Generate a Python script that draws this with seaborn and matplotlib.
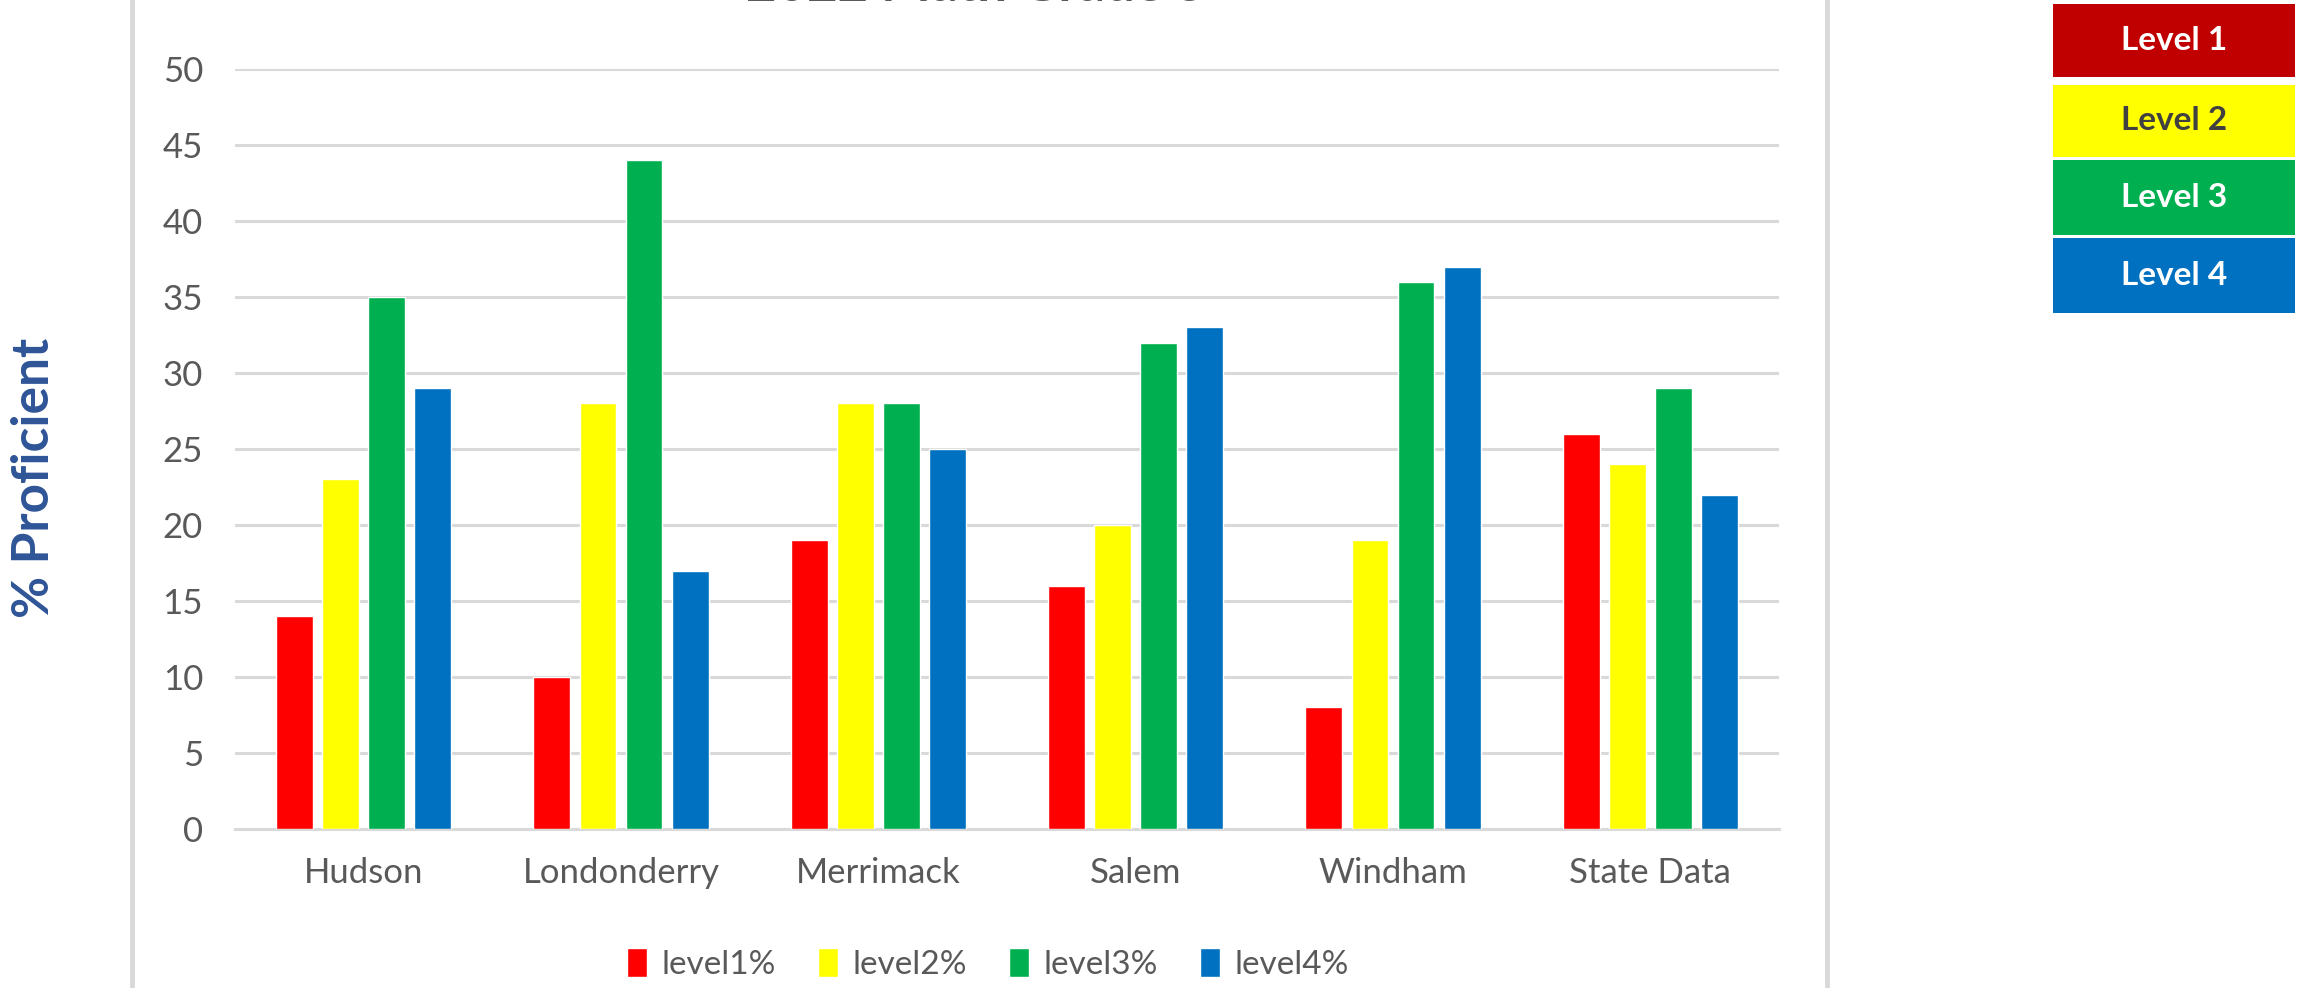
import matplotlib
matplotlib.use("Agg")
import matplotlib.pyplot as plt
from matplotlib.patches import Rectangle
from matplotlib.lines import Line2D
import seaborn as sns
import pandas as pd

# Proficiency distribution by district
districts = ["Hudson", "Londonderry", "Merrimack", "Salem", "Windham", "State Data"]
level1 = [14, 10, 19, 16, 8, 26]
level2 = [23, 28, 28, 20, 19, 24]
level3 = [35, 44, 28, 32, 36, 29]
level4 = [29, 17, 25, 33, 37, 22]
series_names = ["level1%", "level2%", "level3%", "level4%"]
bar_colors = ["#FF0000", "#FFFF00", "#00B050", "#0070C0"]

band_labels = ["Level 1", "Level 2", "Level 3", "Level 4"]
band_fill = ["#C00000", "#FFFF00", "#00B050", "#0070C0"]
band_text = ["white", "#404040", "white", "white"]

rows = []
for name, vals in zip(series_names, [level1, level2, level3, level4]):
    for d, v in zip(districts, vals):
        rows.append({"District": d, "Level": name, "Percent": v})
df = pd.DataFrame(rows)

sns.set_theme(style="white")
plt.rcParams["font.family"] = ["Lato", "DejaVu Sans"]

W, H = 2305, 988
fig = plt.figure(figsize=(W / 100, H / 100), dpi=100)
ax = fig.add_axes([235 / W, 1 - 829 / H, (1779 - 235) / W, (829 - 69) / H])

sns.barplot(data=df, x="District", y="Percent", hue="Level", order=districts,
            hue_order=series_names, palette=bar_colors, width=0.716, gap=0.2,
            saturation=1, errorbar=None, ax=ax, legend=True, zorder=3)

ax.set_ylim(0, 50)
ax.set_yticks(range(0, 51, 5))
ax.yaxis.grid(True, color="#D9D9D9", linewidth=2.2, zorder=0)
ax.set_axisbelow(True)
for s in ["top", "right", "left"]:
    ax.spines[s].set_visible(False)
ax.spines["bottom"].set_color("#D9D9D9")
ax.spines["bottom"].set_linewidth(2.2)
ax.tick_params(axis="both", length=0, labelsize=25, labelcolor="#595959")
ax.tick_params(axis="y", pad=23)
ax.tick_params(axis="x", pad=20)
ax.set_xlabel("")
ax.set_ylabel("")

leg = ax.legend(loc="center", bbox_to_anchor=(988 / W, 1 - 964 / H),
                bbox_transform=fig.transFigure, ncol=4, frameon=False,
                fontsize=24, handlelength=0.6, handleheight=0.95,
                handletextpad=0.45, columnspacing=1.25)
for t in leg.get_texts():
    t.set_color("#595959")

# y-axis title
fig.text(35 / W, 1 - 478 / H, "% Proficient", rotation=90, ha="center",
         va="center", fontsize=37, fontweight="bold", color="#2F5597")

# chart title (runs off the top edge)
fig.text(976 / W, 1 - 1 / H, "2022 Math Grade 5", ha="center", va="baseline",
         fontsize=38, fontweight="bold", color="#595959")

# chart area border
for xpx in (132, 1827):
    fig.add_artist(Line2D([xpx / W, xpx / W], [0, 1], transform=fig.transFigure,
                          color="#D9D9D9", linewidth=3.5))

# performance-level key
tops = [4, 85, 160, 238]
bots = [77, 157, 235, 313]
x0, x1 = 2053, 2295
for lab, fc, tc, t, b in zip(band_labels, band_fill, band_text, tops, bots):
    fig.add_artist(Rectangle((x0 / W, 1 - b / H), (x1 - x0) / W, (b - t) / H,
                             transform=fig.transFigure, facecolor=fc,
                             edgecolor="none"))
    fig.text((x0 + x1) / 2 / W, 1 - (t + b) / 2 / H, lab, ha="center",
             va="center", fontsize=24, fontweight="bold", color=tc)

fig.savefig("out.png", dpi=100)
